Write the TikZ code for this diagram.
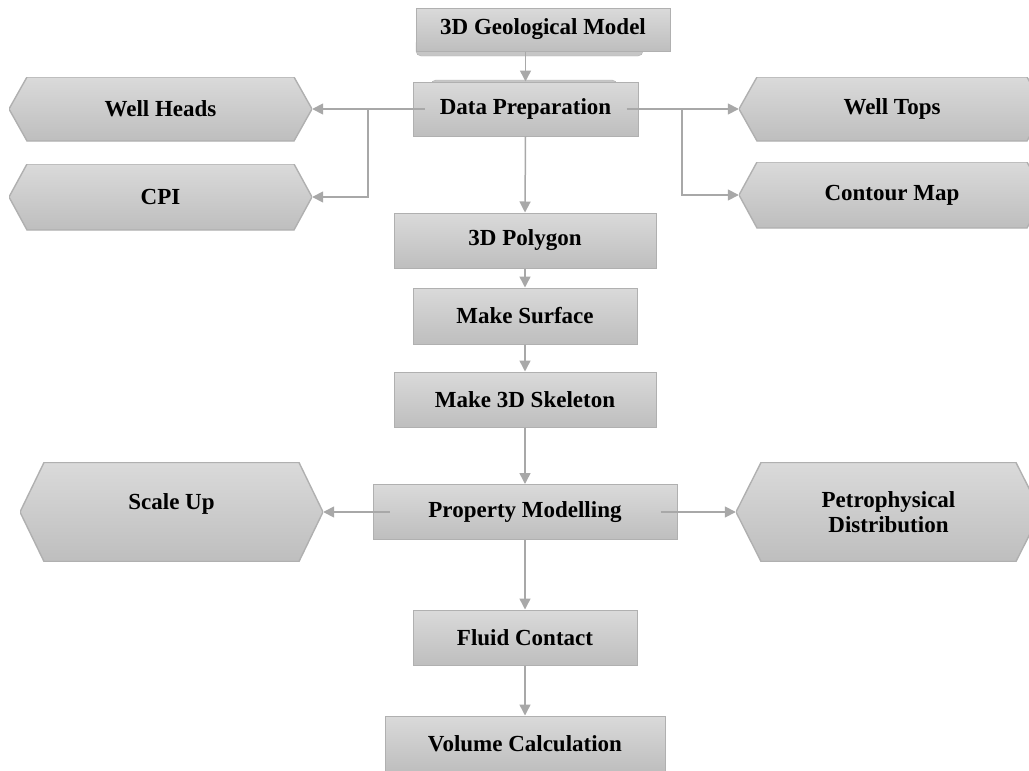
\documentclass[tikz,border=0pt]{standalone}
\usepackage{fontspec}
\setmainfont{Liberation Serif}
\usetikzlibrary{arrows.meta}
\definecolor{boxtop}{HTML}{DADADA}
\definecolor{boxbot}{HTML}{BEBEBE}
\definecolor{boxline}{HTML}{B0B0B0}
\definecolor{lipgray}{HTML}{C6C6C6}
\definecolor{linkgray}{HTML}{A8A8A8}
\newcommand\bigbold{\fontsize{23}{25}\selectfont\bfseries}
\tikzset{
  box/.style = {draw=boxline, line width=1pt, top color=boxtop, bottom color=boxbot,
    minimum height=55pt, inner sep=0pt, font=\bigbold},
  hexbox/.style = {minimum height=64pt, inner sep=0pt, align=center, font=\bigbold,
    path picture={
      \shade[top color=boxtop, bottom color=boxbot, draw=boxline, line width=1.4pt]
        (path picture bounding box.west)
        -- ([xshift=#1]path picture bounding box.north west)
        -- ([xshift=-#1]path picture bounding box.north east)
        -- (path picture bounding box.east)
        -- ([xshift=-#1]path picture bounding box.south east)
        -- ([xshift=#1]path picture bounding box.south west) -- cycle;
    }},
  link/.style = {draw=linkgray, line width=1.5pt, -{Triangle[length=11pt, width=11pt]}}
}
\begin{document}
\begin{tikzpicture}[x=1pt, y=-1pt]
  \clip (0,0) rectangle (1029,771);
  \filldraw[fill=lipgray, draw=boxline, rounded corners=5pt] (416,38) rectangle (643,56);
  \filldraw[fill=lipgray, draw=boxline, rounded corners=5pt] (431,80) rectangle (617,96);
  \node[box, minimum width=254pt, minimum height=43pt] (geo) at (543,29.5) {3D Geological Model};
  \node[box, minimum width=225pt, minimum height=54pt] (prep) at (525.5,109) {Data Preparation};
  \node[hexbox=18pt, minimum width=303pt] (wellheads) at (160.5,109) {Well Heads};
  \node[hexbox=18pt, minimum width=303pt, minimum height=66pt] (cpi) at (160.5,197) {CPI};
  \node[hexbox=18pt, minimum width=306pt] (welltops) at (892,109) {Well Tops};
  \node[hexbox=18pt, minimum width=306pt, minimum height=66pt] (contour) at (892,195) {Contour Map};
  \node[box, minimum width=262pt] (poly) at (525,240.5) {3D Polygon};
  \node[box, minimum width=224pt, minimum height=56pt] (surface) at (525,316) {Make Surface};
  \node[box, minimum width=262pt] (skeleton) at (525,399.5) {Make 3D Skeleton};
  \node[box, minimum width=304pt] (property) at (525,512) {Property Modelling};
  \node[hexbox=24pt, minimum width=303pt, minimum height=99pt, text depth=20pt] (scaleup) at (171.5,512) {Scale Up};
  \node[hexbox=25pt, minimum width=305pt, minimum height=99pt] (petro) at (888.5,512) {Petrophysical\\Distribution};
  \node[box, minimum width=224pt] (fluid) at (525,637.5) {Fluid Contact};
  \node[box, minimum width=280pt] (volume) at (525,743.5) {Volume Calculation};
  \coordinate (jl) at (368,109);
  \coordinate (jr) at (682,109);
  \draw[link] (geo.south -| prep.north) -- (prep.north);
  \draw[link] ([xshift=12pt]prep.west) -- (wellheads.east);
  \draw[link] (jl) |- (cpi.east);
  \draw[link] ([xshift=-12pt]prep.east) -- (welltops.west);
  \draw[link] (jr) |- (contour.west);
  \draw[link] (prep.south) -- (poly.north);
  \draw[link] (poly.south) -- (surface.north);
  \draw[link] (surface.south) -- (skeleton.north);
  \draw[link] (skeleton.south) -- (property.north);
  \draw[link] ([xshift=17pt]property.west) -- (scaleup.east);
  \draw[link] ([xshift=-17pt]property.east) -- (petro.west);
  \draw[link] (property.south) -- (fluid.north);
  \draw[link] (fluid.south) -- (volume.north);
\end{tikzpicture}
\end{document}
